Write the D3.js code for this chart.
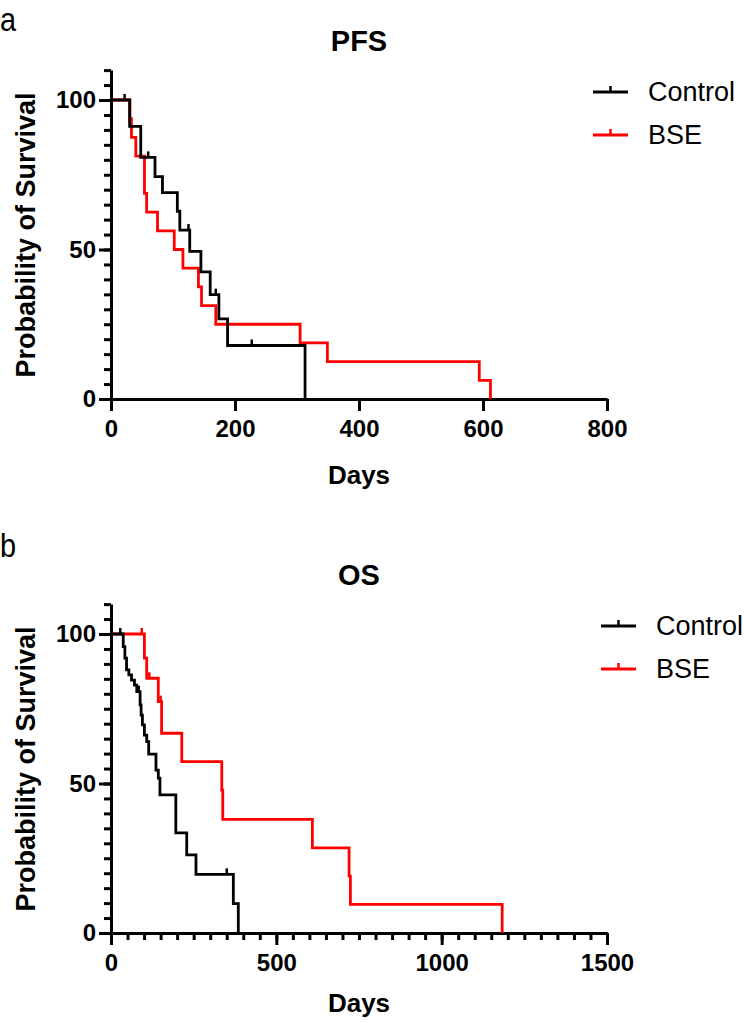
<!DOCTYPE html>
<html>
<head>
<meta charset="utf-8">
<script src="https://d3js.org/d3.v7.min.js"></script>
<style>
  body { margin: 0; background: #fff; }
  svg { display: block; font-family: "Liberation Sans", Arial, sans-serif; }
</style>
</head>
<body>
<svg width="744" height="1023"></svg>
<script>
// ---- PFS (panel a) ----
var pfsControlDays = [0, 30, 48, 71, 83, 107, 111, 127, 145, 160, 174, 188, 313];
var pfsControlSurv = [100, 91.2, 80.8, 74.4, 69, 62.8, 56.5, 49.4, 42.5, 34.9, 26.8, 17.9, 0];
var pfsControlCensor = [22, 60, 125, 169, 227];

var pfsBseDays = [0, 30.6, 33, 40, 54, 57.5, 75, 102, 116, 141, 146, 169, 305, 349, 594, 612];
var pfsBseSurv = [100, 93.75, 87.5, 81.25, 68.75, 62.5, 56.25, 50, 43.75, 37.5, 31.25, 25, 18.75, 12.5, 6.25, 0];
var pfsBseCensor = [];

// ---- OS (panel b) ----
var osControlDays = [0, 37, 42, 47, 54, 62, 71, 78, 88, 91, 95, 101, 108, 114, 136, 143, 148, 196, 229, 257, 370, 385];
var osControlSurv = [100, 95.8, 91.9, 88, 86.3, 84.6, 82.9, 80.7, 76.3, 72.9, 69.6, 66.2, 64, 59.8, 54.5, 51.8, 46.2, 33.5, 26.1, 19.6, 9.8, 0];
var osControlCensor = [28, 84, 350];

var osBseDays = [0, 101, 108, 143, 153, 214, 335, 338, 609, 720, 724, 1183];
var osBseSurv = [100, 91.9, 85.2, 77.4, 66.8, 57.3, 47.8, 38, 28.5, 19, 9.6, 0];
var osBseCensor = [93, 116, 150];

var seriesNames = ["Control", "BSE"];
var seriesColors = ["#000000", "#ff0000"];
var yMajorTicks = [0, 50, 100];

var svg = d3.select("svg");

function survAt(days, surv, t) {
    var s = surv[0];
    for (var i = 0; i < days.length; i++) {
        if (days[i] <= t) s = surv[i];
    }
    return s;
}

function styleTicks(a) {
    a.selectAll("text").style("font-size", "24px").style("font-weight", "bold")
        .style("font-family", "'Liberation Sans', Arial, sans-serif").attr("fill", "#000");
}

function drawPanel(cfg) {
    var x = d3.scaleLinear().domain([0, cfg.xMax]).range([111, 607]);
    var y = d3.scaleLinear().domain([0, 110]).range([cfg.y0, cfg.y0 - 328.9]);
    var g = svg.append("g");

    // panel letter and title
    g.append("text")
        .attr("transform", "translate(0," + cfg.letterY + ") scale(0.85,1)")
        .style("font-size", "34px")
        .text(cfg.letter);
    g.append("text")
        .attr("x", 359).attr("y", cfg.y0 - 348)
        .attr("text-anchor", "middle")
        .style("font-size", "29px").style("font-weight", "bold")
        .text(cfg.title);

    // y axis: minor + major
    g.append("g")
        .attr("transform", "translate(111,0)")
        .call(d3.axisLeft(y).tickValues(d3.range(0, 111, 5)).tickSize(7).tickSizeOuter(0).tickFormat(""))
        .call(function(a) { a.selectAll("line, path").attr("stroke", "#000").attr("stroke-width", 3); });
    g.append("g")
        .attr("transform", "translate(111,0)")
        .call(d3.axisLeft(y).tickValues(yMajorTicks).tickSize(12).tickPadding(3).tickSizeOuter(0))
        .call(function(a) {
            a.select(".domain").remove();
            a.selectAll("line").attr("stroke", "#000").attr("stroke-width", 3);
            styleTicks(a);
        });

    // x axis
    if (cfg.xMinor) {
        g.append("g")
            .attr("transform", "translate(0," + cfg.y0 + ")")
            .call(d3.axisBottom(x).tickValues(cfg.xMinor).tickSize(7).tickSizeOuter(0).tickFormat(""))
            .call(function(a) { a.selectAll("line, path").attr("stroke", "#000").attr("stroke-width", 3); });
    }
    g.append("g")
        .attr("transform", "translate(0," + cfg.y0 + ")")
        .call(d3.axisBottom(x).tickValues(cfg.xTicks).tickSize(12).tickPadding(9).tickSizeOuter(0)
            .tickFormat(d3.format("d")))
        .call(function(a) {
            a.select(".domain").attr("stroke", "#000").attr("stroke-width", 3);
            a.selectAll("line").attr("stroke", "#000").attr("stroke-width", 3);
            styleTicks(a);
        });

    // axis titles
    g.append("text")
        .attr("transform", "translate(35," + (cfg.y0 - 164) + ") rotate(-90)")
        .attr("text-anchor", "middle")
        .style("font-size", "27px").style("font-weight", "bold")
        .text("Probability of Survival");
    g.append("text")
        .attr("x", 359).attr("y", cfg.daysY)
        .attr("text-anchor", "middle")
        .style("font-size", "26px").style("font-weight", "bold")
        .text("Days");

    // curves: BSE first, Control on top
    var line = d3.line()
        .x(function(d) { return x(d[0]); })
        .y(function(d) { return y(d[1]); })
        .curve(d3.curveStepAfter);
    [1, 0].forEach(function(k) {
        var s = cfg.series[k];
        var pts = s.days.map(function(d, i) { return [d, s.surv[i]]; });
        g.append("path")
            .attr("d", line(pts))
            .attr("fill", "none")
            .attr("stroke", seriesColors[k])
            .attr("stroke-width", 2.8);
        g.selectAll(null).data(s.censor).enter().append("line")
            .attr("x1", function(d) { return x(d); })
            .attr("x2", function(d) { return x(d); })
            .attr("y1", function(d) { return y(survAt(s.days, s.surv, d)); })
            .attr("y2", function(d) { return y(survAt(s.days, s.surv, d)) - 6; })
            .attr("stroke", seriesColors[k])
            .attr("stroke-width", 2.5);
    });

    // legend
    seriesNames.forEach(function(name, i) {
        var ly = cfg.legY + i * 43;
        g.append("line")
            .attr("x1", cfg.legX).attr("x2", cfg.legX + 35)
            .attr("y1", ly).attr("y2", ly)
            .attr("stroke", seriesColors[i]).attr("stroke-width", 2.8);
        g.append("line")
            .attr("x1", cfg.legX + 17.5).attr("x2", cfg.legX + 17.5)
            .attr("y1", ly).attr("y2", ly - 6)
            .attr("stroke", seriesColors[i]).attr("stroke-width", 2.5);
        g.append("text")
            .attr("x", cfg.legX + 55).attr("y", ly + 9)
            .style("font-size", "27px")
            .text(name);
    });
}

drawPanel({
    letter: "a", title: "PFS", y0: 399, xMax: 800, letterY: 31, daysY: 484,
    xTicks: [0, 200, 400, 600, 800], xMinor: null,
    legX: 593, legY: 92,
    series: [
        { days: pfsControlDays, surv: pfsControlSurv, censor: pfsControlCensor },
        { days: pfsBseDays, surv: pfsBseSurv, censor: pfsBseCensor }
    ]
});

drawPanel({
    letter: "b", title: "OS", y0: 933, xMax: 1500, letterY: 557, daysY: 1012,
    xTicks: [0, 500, 1000, 1500], xMinor: d3.range(0, 1501, 50),
    legX: 601, legY: 626,
    series: [
        { days: osControlDays, surv: osControlSurv, censor: osControlCensor },
        { days: osBseDays, surv: osBseSurv, censor: osBseCensor }
    ]
});
</script>
</body>
</html>
